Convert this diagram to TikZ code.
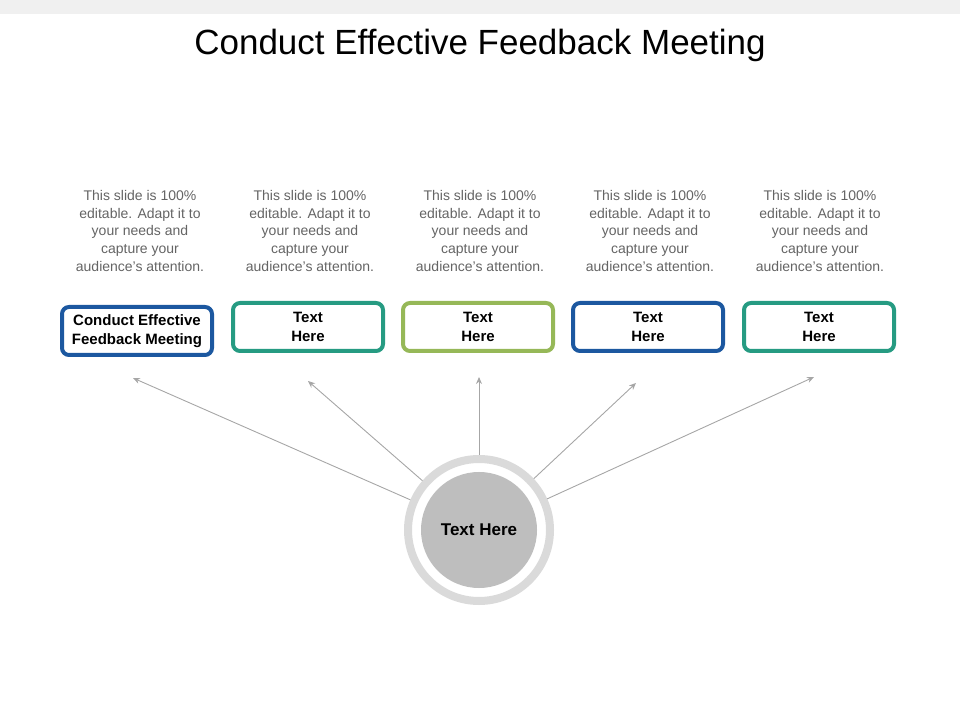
\documentclass[tikz,border=0pt]{standalone}
\usepackage{fontspec}
\setmainfont{Liberation Sans}
\usetikzlibrary{positioning,arrows.meta}
\definecolor{myblue}{RGB}{28,88,160}
\definecolor{myteal}{RGB}{38,155,130}
\definecolor{mygreen}{RGB}{150,184,88}
\definecolor{mygray}{RGB}{190,190,190}
\definecolor{myring}{RGB}{218,218,218}
\definecolor{mytext}{RGB}{100,100,100}
\tikzset{box/.style={draw=#1,line width=4pt,rounded corners=7pt,fill=white,minimum width=150pt,minimum height=48pt,inner sep=2pt,align=center,font=\fontsize{15}{19}\selectfont\bfseries}}
\tikzset{note/.style={text=mytext,align=center,font=\fontsize{14}{17.8}\selectfont}}
\begin{document}
\begin{tikzpicture}[x=1pt,y=1pt]
\useasboundingbox (0,0) rectangle (960,720);
\fill[black!6] (0,706) rectangle (960,720);
\node[font=\fontsize{35}{40}\selectfont] (title) at (480,675) {Conduct Effective Feedback Meeting};
\node[box=myblue] (b1) at (137,389) {Conduct Effective\\Feedback Meeting};
\node[box=myteal] (b2) at (308,393) {Text\\Here};
\node[box=mygreen] (b3) at (478,393) {Text\\Here};
\node[box=myblue] (b4) at (648,393) {Text\\Here};
\node[box=myteal] (b5) at (819,393) {Text\\Here};
\foreach \i/\x in {1/140,2/310,3/480,4/650,5/820}
  \node[note] (n\i) at (\x,489) {This slide is 100\%\\editable. Adapt it to\\your needs and\\capture your\\audience's attention.};
\node[circle,draw=myring,line width=8pt,fill=white,minimum size=142pt] (ring) at (479,190) {};
\node[circle,fill=mygray,minimum size=116pt,font=\fontsize{17}{20}\selectfont\bfseries] (hub) at (479,190) {Text Here};
\coordinate (a1) at (133,342);
\coordinate (a2) at (308,339);
\coordinate (a3) at (479,343);
\coordinate (a4) at (636,337);
\coordinate (a5) at (814,343);
\foreach \i in {1,...,5}
  \draw[-{Stealth[length=7pt,width=6pt]},black!35,line width=0.9pt] (ring) -- (a\i);
\end{tikzpicture}
\end{document}
